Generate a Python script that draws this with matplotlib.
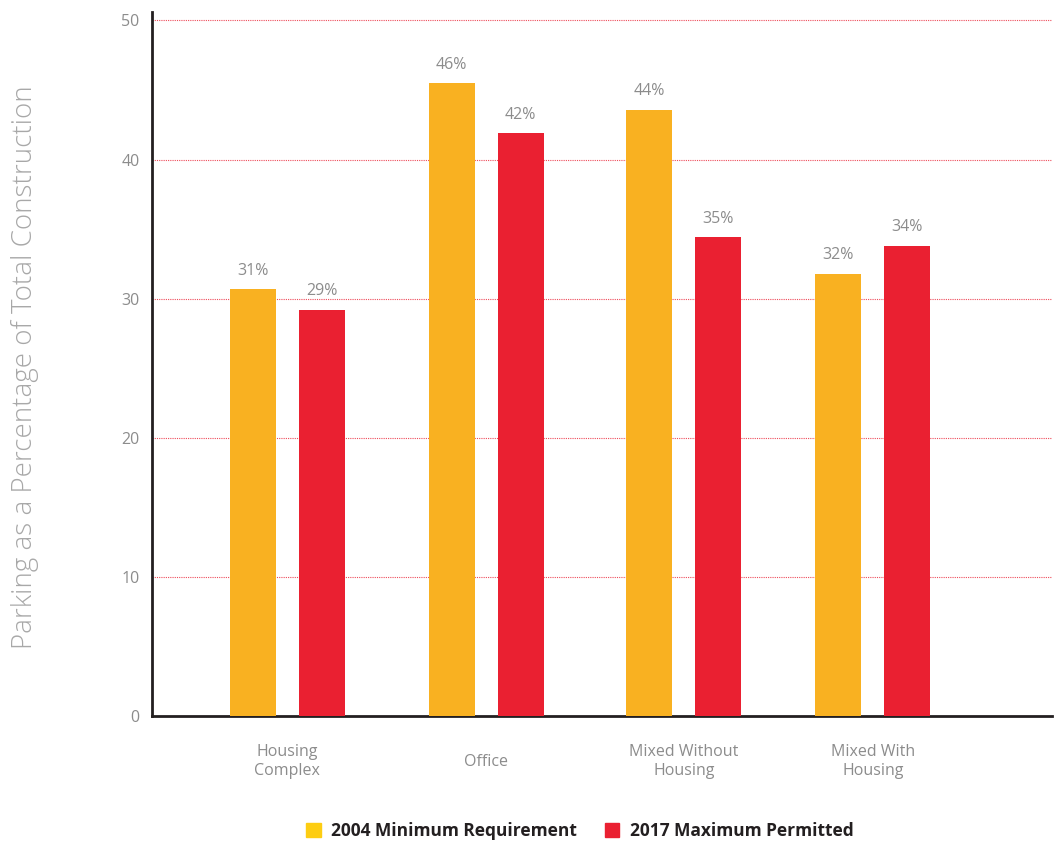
import matplotlib.pyplot as plt
from matplotlib.patches import Patch
import numpy as np

categories = ["Housing\nComplex", "Office", "Mixed Without\nHousing", "Mixed With\nHousing"]
min_2004 = [30.7, 45.5, 43.6, 31.8]
max_2017 = [29.2, 41.9, 34.4, 33.8]
labels_2004 = ["31%", "46%", "44%", "32%"]
labels_2017 = ["29%", "42%", "35%", "34%"]
series_names = ["2004 Minimum Requirement", "2017 Maximum Permitted"]

plt.rcParams["font.family"] = ["Open Sans", "DejaVu Sans"]

yellow = "#F9B121"
yellow_legend = "#FDCD12"
red = "#EA2031"
grey = "#8C8C8C"

fig = plt.figure(figsize=(10.56, 8.43), dpi=100)
ax = fig.add_axes([0.144, 0.1507, 0.852, 0.8349])

# group centres are not quite evenly spaced in the original
x = np.array([0.0, 1.015, 2.023, 2.987])
w = 0.235
off = 0.176

b1 = ax.bar(x - off, min_2004, w, color=yellow, zorder=3)
b2 = ax.bar(x + off, max_2017, w, color=red, zorder=3)

for bars, labs in ((b1, labels_2004), (b2, labels_2017)):
    for bar, lab in zip(bars, labs):
        ax.text(bar.get_x() + bar.get_width() / 2, bar.get_height() + 0.75, lab,
                ha="center", va="bottom", fontsize=11.5, color=grey)

ax.set_xlim(-0.69, 3.9)
ax.set_ylim(0, 50.6)
ax.set_yticks([0, 10, 20, 30, 40, 50])
ax.set_xticks(x)
ax.set_xticklabels(categories, fontsize=11.5, color=grey, linespacing=1.25)
ax.tick_params(axis="x", length=0, pad=33)
ax.tick_params(axis="y", length=0, pad=9, labelsize=11.5, labelcolor=grey)
for t in ax.get_xticklabels():
    t.set_verticalalignment("center")

for v in [10, 20, 30, 40, 50]:
    ax.axhline(v, color="#EE4B5A", linestyle=(0, (1, 1)), linewidth=0.8, zorder=1)

for s in ["top", "right"]:
    ax.spines[s].set_visible(False)
for s in ["left", "bottom"]:
    ax.spines[s].set_color("#231F20")
    ax.spines[s].set_linewidth(2)

fig.text(0.024, 0.565, "Parking as a Percentage of Total Construction", rotation=90,
         ha="center", va="center", fontsize=20, color="#A8A8A8", fontweight="light")

handles = [Patch(color=yellow_legend), Patch(color=red)]
fig.legend(handles, series_names, loc="center", bbox_to_anchor=(0.549, 0.0142), ncol=2,
           frameon=False, handlelength=0.85, handleheight=0.85, handletextpad=0.6,
           columnspacing=1.6, prop={"weight": "bold", "size": 12.5}, labelcolor="#231F20")

fig.savefig("out.png", dpi=100)
